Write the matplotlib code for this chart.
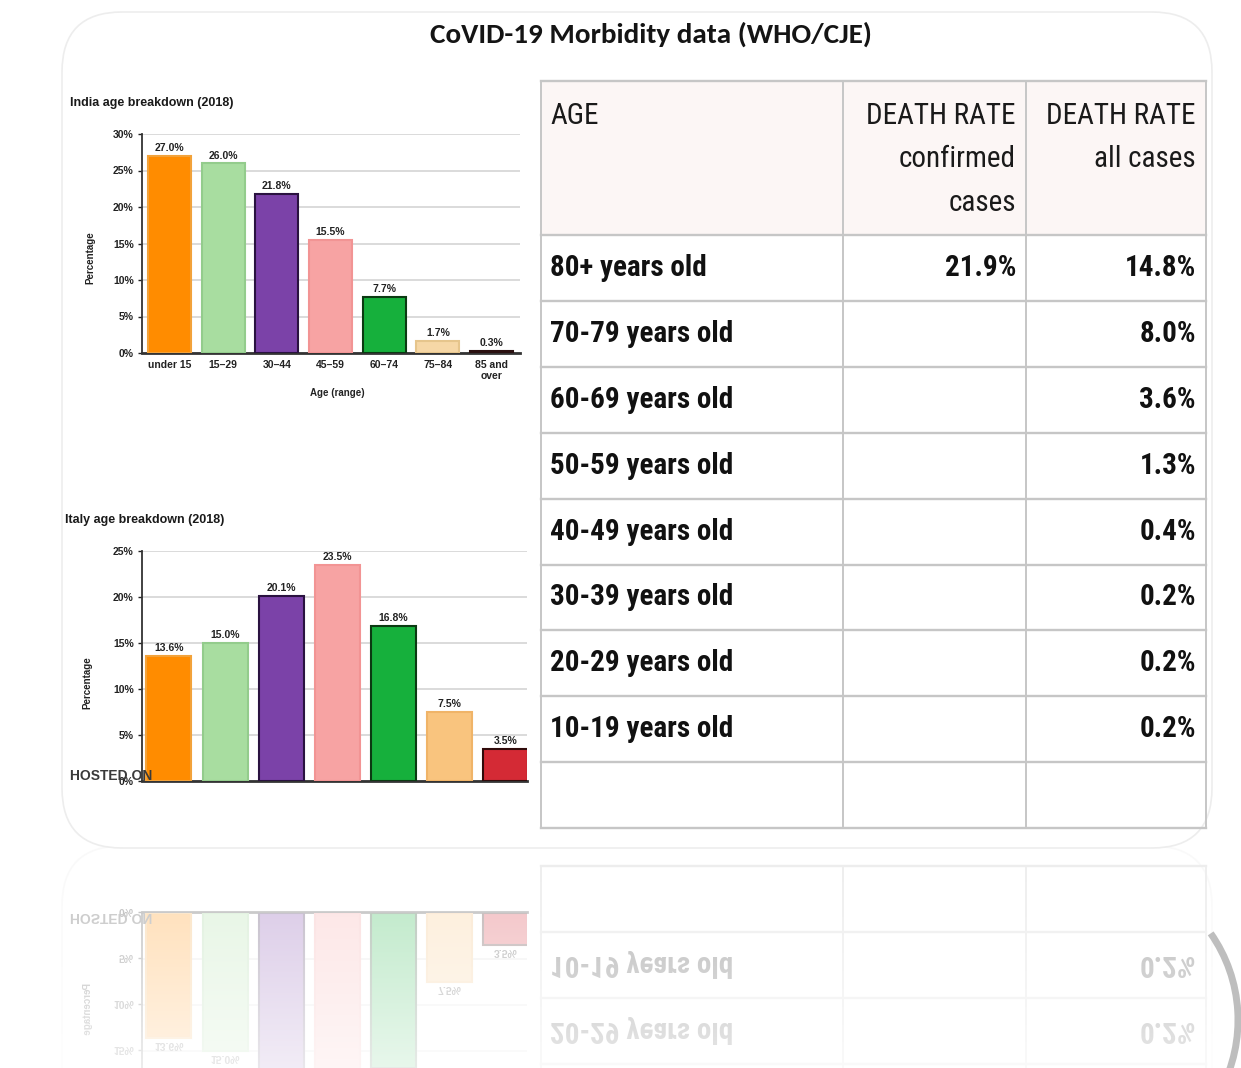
import matplotlib
matplotlib.use('Agg')
import numpy as np
import matplotlib.pyplot as plt
from matplotlib import font_manager
from matplotlib.patches import FancyBboxPatch, Rectangle, Arc

# ---- data ----
age_groups = ["under 15", "15\u201329", "30\u201344", "45\u201359", "60\u201374", "75\u201384", "85 and\nover"]
india_share = [27.0, 26.0, 21.8, 15.5, 7.7, 1.7, 0.3]
italy_share = [13.6, 15.0, 20.1, 23.5, 16.8, 7.5, 3.5]

india_colors = ["#FF8C00", "#A8DDA0", "#7B42A8", "#F7A3A3", "#16B03C", "#F6D7A6", "#5A2A2A"]
india_edges = ["#F2A23A", "#93CC8C", "#2A1240", "#F29494", "#0B3A12", "#E6C58C", "#2A1010"]
italy_colors = ["#FF8C00", "#A8DDA0", "#7B42A8", "#F7A3A3", "#16B03C", "#F9C47E", "#D42A35"]
italy_edges = ["#F2A23A", "#93CC8C", "#2A1240", "#F29494", "#0B3A12", "#F0B468", "#300A0A"]

header_lines = [["AGE"], ["DEATH RATE", "confirmed", "cases"], ["DEATH RATE", "all cases"]]
age_rows = ["80+ years old", "70-79 years old", "60-69 years old", "50-59 years old",
            "40-49 years old", "30-39 years old", "20-29 years old", "10-19 years old"]
rate_confirmed = ["21.9%", "", "", "", "", "", "", ""]
rate_all = ["14.8%", "8.0%", "3.6%", "1.3%", "0.4%", "0.2%", "0.2%", "0.2%"]


def has_font(name):
    try:
        font_manager.findfont(font_manager.FontProperties(family=name), fallback_to_default=False)
        return True
    except ValueError:
        return False


# condensed faces if the machine has them, else plain Liberation Sans a bit smaller
if has_font('Roboto Condensed'):
    table_font, tscale = 'Roboto Condensed', 1.0
else:
    table_font, tscale = 'Liberation Sans', 0.82
if has_font('Carlito'):
    title_font, hscale = 'Carlito', 1.0
else:
    title_font, hscale = 'Liberation Sans', 0.9

plt.rcParams['font.family'] = ['Liberation Sans', 'DejaVu Sans']

W, H = 1241, 1068
fig = plt.figure(figsize=(W / 100, H / 100), dpi=100)
fig.patch.set_facecolor('white')


def fx(px):
    return px / W


def fy(py):
    return 1 - py / H


# background layer in pixel coordinates (card, table)
bg = fig.add_axes([0, 0, 1, 1])
bg.set_xlim(0, W)
bg.set_ylim(H, 0)
bg.axis('off')

bg.add_patch(FancyBboxPatch((62, 12), 1150, 836, boxstyle="round,pad=0,rounding_size=60",
                            fc='white', ec='#EDEDED', lw=1.2, zorder=0))

fig.text(fx(651), fy(34), "CoVID-19 Morbidity data (WHO/CJE)", ha='center', va='center',
         fontsize=21 * hscale, fontweight='bold', family=[title_font, 'DejaVu Sans'],
         color='#141414')


def bar_panel(rect, values, colors, edges, ymax, labels):
    ax = fig.add_axes(rect)
    ax.set_facecolor('none')
    x = np.arange(len(values))
    ax.bar(x, values, width=0.8, color=colors, edgecolor=edges, linewidth=1.5, zorder=3)
    for i, v in enumerate(values):
        ax.text(i, v + 0.35, f"{v:.1f}%", ha='center', va='bottom', fontsize=7.5,
                fontweight='bold', color='#222222', zorder=4)
    ax.set_ylim(0, ymax)
    ax.set_yticks(range(0, ymax + 1, 5))
    ax.set_yticklabels([f"{t}%" for t in range(0, ymax + 1, 5)], fontsize=7.5, fontweight='bold')
    ax.set_xticks(x)
    if labels:
        ax.set_xticklabels(age_groups, fontsize=7.5, fontweight='bold', linespacing=1.1)
    else:
        ax.set_xticklabels([])
    ax.yaxis.grid(True, color='#D8D8D8', lw=1.3)
    ax.set_axisbelow(True)
    for s in ['top', 'right']:
        ax.spines[s].set_visible(False)
    ax.spines['left'].set_color('#333333')
    ax.spines['left'].set_linewidth(1.3)
    ax.spines['bottom'].set_color('#333333')
    ax.spines['bottom'].set_linewidth(2)
    ax.tick_params(axis='y', length=3, width=1, pad=3, colors='#222222')
    ax.tick_params(axis='x', length=0, pad=5, colors='#222222')
    return ax


# India panel
ax1 = bar_panel([fx(142), fy(353), 378 / W, 219 / H], india_share, india_colors, india_edges, 30, True)
ax1.set_xlim(-0.51, 6.53)
fig.text(fx(70), fy(103), "India age breakdown (2018)", ha='left', va='center',
         fontsize=9, fontweight='bold', color='#1A1A1A')
fig.text(fx(90), fy(258), "Percentage", rotation=90, ha='center', va='center',
         fontsize=7, fontweight='bold', color='#222222')
fig.text(fx(337), fy(393), "Age (range)", ha='center', va='center',
         fontsize=7, fontweight='bold', color='#222222')

# Italy panel
ax2 = bar_panel([fx(142), fy(781), 385 / W, 230 / H], italy_share, italy_colors, italy_edges, 25, False)
ax2.set_xlim(-0.48, 6.38)
fig.text(fx(65), fy(520), "Italy age breakdown (2018)", ha='left', va='center',
         fontsize=9, fontweight='bold', color='#1A1A1A')
fig.text(fx(87), fy(683), "Percentage", rotation=90, ha='center', va='center',
         fontsize=7, fontweight='bold', color='#222222')
# watermark lies over the 0% label, as in the source image
fig.text(fx(70), fy(776), "HOSTED ON", ha='left', va='center', fontsize=10,
         fontweight='bold', color='#3A3A3A', zorder=10)

# table
col_x = [541, 843, 1026, 1206]
top, head_bot, row_h = 81, 235, 65.9
n_rows = len(age_rows) + 1  # one empty row at the bottom
bg.add_patch(Rectangle((col_x[0], top), col_x[-1] - col_x[0], head_bot - top,
                       fc='#FCF6F5', ec='none', zorder=1))
line_c = '#C6C6C6'
for y in [top, head_bot] + [head_bot + row_h * (i + 1) for i in range(n_rows)]:
    bg.plot([col_x[0], col_x[-1]], [y, y], color=line_c, lw=1.7, zorder=2)
for x in col_x:
    bg.plot([x, x], [top, head_bot + row_h * n_rows], color=line_c, lw=1.4, zorder=2)

tfam = [table_font, 'DejaVu Sans']
head_y = [116, 159, 203]
for j, lines in enumerate(header_lines):
    for k, t in enumerate(lines):
        if j == 0:
            bg.text(550, head_y[k], t, ha='left', va='center', fontsize=21 * tscale,
                    family=tfam, color='#1A1A1A', zorder=3)
        else:
            bg.text(col_x[j + 1] - 10, head_y[k], t, ha='right', va='center',
                    fontsize=21 * tscale, family=tfam, color='#1A1A1A', zorder=3)

for i, name in enumerate(age_rows):
    yc = head_bot + row_h * (i + 0.5)
    bg.text(550, yc, name, ha='left', va='center', fontsize=21 * tscale, fontweight='bold',
            family=tfam, color='#111111', zorder=3)
    bg.text(col_x[2] - 10, yc, rate_confirmed[i], ha='right', va='center', fontsize=21 * tscale,
            fontweight='bold', family=tfam, color='#111111', zorder=3)
    bg.text(col_x[3] - 10, yc, rate_all[i], ha='right', va='center', fontsize=21 * tscale,
            fontweight='bold', family=tfam, color='#111111', zorder=3)

# gray arc at bottom right
bg.add_patch(Arc((1087, 1020), 302, 302, theta1=-35, theta2=28, color='#BEBEBE', lw=5, zorder=5))

# mirrored, faded reflection below the card
fig.canvas.draw()
buf = np.asarray(fig.canvas.buffer_rgba())[:, :, :3].astype(float)
mirror = 847
crop = buf[mirror - (H - mirror):mirror][::-1]
fade = np.linspace(0.32, 0.10, crop.shape[0])[:, None, None]
refl = 255 - fade * (255 - crop)
fig.figimage(refl.astype(np.uint8), xo=0, yo=0, origin='upper', zorder=-1)

fig.savefig('out.png', dpi=100)
